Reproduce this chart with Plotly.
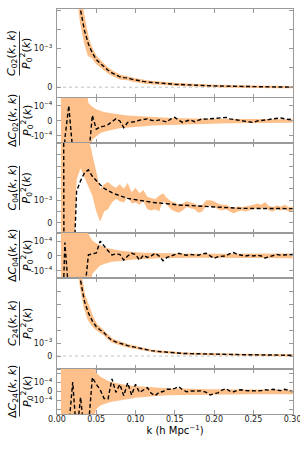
import numpy as np
import plotly.graph_objects as go
from plotly.subplots import make_subplots

# ---------------- data ----------------
k = np.round(np.arange(1, 61) * 0.005, 4)

# C02 / P0^2 (units of 1e-3)
c02 = [72, 18, 8.0, 4.5, 2.9, 2.0, 1.47, 1.12, 0.89, 0.72,
       0.62, 0.52, 0.44, 0.37, 0.31, 0.27, 0.25, 0.24, 0.21, 0.185,
       0.165, 0.15, 0.135, 0.124, 0.113, 0.104, 0.096, 0.089, 0.083, 0.077,
       0.071, 0.065, 0.06, 0.055, 0.051, 0.047, 0.043, 0.04, 0.037, 0.034,
       0.031, 0.028, 0.025, 0.023, 0.021, 0.019, 0.018, 0.016, 0.015, 0.014,
       0.012, 0.011, 0.01, 0.008, 0.007, 0.006, 0.005, 0.004, 0.003, 0.002]
# Delta C02 (units of 1e-4)
dc02 = [-8, -1.2, 1.02, -2.0, -4, -4, -4, -2.5, 0.38, -0.55,
        -0.4, -0.35, -0.24, -0.05, 0.14, 0.0, -0.45, -0.1, -0.08, -0.05,
        0.05, 0.07, 0.14, 0.05, 0.0, 0.07, 0.02, -0.07, 0.14, 0.24,
        0.05, -0.1, 0.0, 0.07, -0.05, 0.05, 0.14, 0.12, 0.14, 0.17,
        0.2, 0.22, 0.24, 0.14, 0.1, 0.07, 0.04, 0.0, -0.05, -0.1,
        0.0, 0.05, 0.07, 0.1, 0.14, 0.18, 0.2, 0.14, 0.1, 0.14]
dc02_hi = [3, 3, 3, 3, 3, 3, 3, 1.2, 0.95, 0.78,
           0.68, 0.6, 0.55, 0.5, 0.46, 0.42, 0.39, 0.36, 0.34, 0.32,
           0.3, 0.28, 0.27, 0.25, 0.24, 0.23, 0.22, 0.21, 0.2, 0.19,
           0.185, 0.18, 0.175, 0.17, 0.165, 0.16, 0.157, 0.154, 0.15, 0.147,
           0.144, 0.141, 0.138, 0.136, 0.134, 0.132, 0.13, 0.128, 0.127, 0.126,
           0.125, 0.124, 0.123, 0.122, 0.122, 0.121, 0.121, 0.12, 0.12, 0.12]
dc02_lo = [-3, -3, -3, -3, -3, -3, -3, -3, -1.24, -1.0,
           -0.82, -0.72, -0.64, -0.58, -0.53, -0.49, -0.46, -0.43, -0.41, -0.4,
           -0.37, -0.35, -0.33, -0.31, -0.3, -0.28, -0.27, -0.26, -0.25, -0.24,
           -0.23, -0.22, -0.21, -0.2, -0.195, -0.19, -0.185, -0.18, -0.175, -0.17,
           -0.165, -0.16, -0.155, -0.15, -0.145, -0.14, -0.137, -0.134, -0.131, -0.128,
           -0.126, -0.124, -0.122, -0.12, -0.12, -0.12, -0.12, -0.12, -0.12, -0.12]

# C04 / P0^2 (units of 1e-3)
c04 = [60, -20, -30, -3, 1.4, 1.85, 2.2, 2.33, 2.05, 1.85,
       1.68, 1.52, 1.42, 1.33, 1.26, 1.19, 1.13, 1.08, 1.05, 1.02,
       0.99, 0.96, 0.93, 0.91, 0.89, 0.88, 0.87, 0.86, 0.83, 0.81,
       0.79, 0.78, 0.76, 0.75, 0.73, 0.72, 0.71, 0.71, 0.70, 0.70,
       0.69, 0.68, 0.67, 0.66, 0.65, 0.65, 0.64, 0.64, 0.64, 0.65,
       0.66, 0.66, 0.66, 0.65, 0.65, 0.64, 0.64, 0.64, 0.63, 0.63]
c04_lo = [-3, -3, -3, -3, 1.9, 2.4, 2.0, 1.6, 1.2, 0.5,
          0.05, 0.5, 0.6, 0.9, 1.05, 0.95, 0.9, 1.15, 0.85, 0.9,
          0.8, 0.95, 0.6, 0.55, 0.6, 0.5, 0.95, 0.8, 0.6, 0.5,
          0.45, 0.55, 0.7, 0.65, 0.6, 0.45, 0.5, 0.75, 0.75, 0.7,
          0.6, 0.55, 0.6, 0.5, 0.42, 0.5, 0.55, 0.5, 0.55, 0.6,
          0.65, 0.6, 0.7, 0.55, 0.5, 0.6, 0.55, 0.6, 0.5, 0.5]
c04_hi = [8, 8, 8, 8, 8, 8, 6, 3.8, 3.0, 2.2,
          1.5, 1.7, 1.8, 1.65, 1.55, 1.7, 1.5, 1.75, 1.35, 1.55,
          1.3, 1.45, 1.15, 1.1, 1.05, 1.2, 1.3, 1.1, 0.95, 0.9,
          0.8, 0.85, 0.95, 0.9, 0.85, 0.75, 0.8, 1.0, 1.0, 0.95,
          0.85, 0.8, 0.8, 0.72, 0.65, 0.72, 0.7, 0.72, 0.75, 0.8,
          0.85, 0.8, 0.92, 0.75, 0.7, 0.78, 0.72, 0.8, 0.7, 0.72]
# Delta C04 (units of 1e-4)
dc04 = [-8, 0.9, -8, -6, -4, -8, -2.5, 0.07, 0.14, 0.2,
        1.0, 0.64, 0.35, 0.07, 0.14, 0.1, -0.28, 0.0, 0.18, 0.1,
        -0.28, 0.05, -0.1, 0.0, 0.18, 0.0, -0.32, -0.1, 0.0, 0.1,
        0.18, 0.1, 0.05, 0.1, 0.05, 0.05, 0.15, 0.18, 0.0, -0.16,
        -0.05, 0.0, 0.0, 0.15, 0.23, 0.1, 0.05, 0.0, 0.05, 0.0,
        0.05, 0.0, -0.14, -0.05, 0.05, 0.1, 0.05, 0.07, 0.05, 0.1]
dc04_hi = [3, 3, 3, 3, 3, 3, 3, 1.5, 1.05, 0.85,
           0.7, 0.6, 0.52, 0.45, 0.4, 0.36, 0.33, 0.3, 0.27, 0.25,
           0.23, 0.22, 0.21, 0.2, 0.19, 0.18, 0.17, 0.16, 0.155, 0.15,
           0.15, 0.15, 0.15, 0.15, 0.15, 0.15, 0.15, 0.15, 0.15, 0.15,
           0.15, 0.15, 0.155, 0.155, 0.155, 0.155, 0.155, 0.16, 0.16, 0.16,
           0.16, 0.16, 0.16, 0.16, 0.16, 0.16, 0.16, 0.16, 0.16, 0.16]
dc04_lo = [-3, -3, -3, -3, -3, -3, -3, -3, -1.2, -0.95,
           -0.65, -0.55, -0.45, -0.4, -0.37, -0.33, -0.3, -0.28, -0.26, -0.24,
           -0.22, -0.2, -0.19, -0.18, -0.17, -0.16, -0.15, -0.14, -0.13, -0.12,
           -0.12, -0.12, -0.12, -0.12, -0.12, -0.125, -0.125, -0.125, -0.13, -0.13,
           -0.13, -0.13, -0.135, -0.135, -0.135, -0.14, -0.14, -0.14, -0.14, -0.14,
           -0.145, -0.145, -0.145, -0.145, -0.15, -0.15, -0.15, -0.15, -0.15, -0.15]

# C24 / P0^2 (units of 1e-3)
c24 = [200, 55, 24, 13.5, 8.5, 5.8, 4.2, 3.3, 2.7, 2.25,
       2.0, 1.78, 1.45, 1.2, 1.08, 0.97, 0.88, 0.8, 0.73, 0.66,
       0.6, 0.53, 0.46, 0.41, 0.37, 0.34, 0.31, 0.28, 0.26, 0.24,
       0.22, 0.2, 0.19, 0.18, 0.17, 0.16, 0.15, 0.145, 0.14, 0.13,
       0.125, 0.12, 0.115, 0.11, 0.108, 0.105, 0.102, 0.1, 0.097, 0.094,
       0.09, 0.086, 0.082, 0.078, 0.074, 0.07, 0.066, 0.062, 0.058, 0.055]
# Delta C24 (units of 1e-4)
dc24 = [-5, -8, -4, 1.07, -5, -0.66, -5, -4, 1.6, 0.81,
        0.2, -0.8, -0.84, 1.43, -0.1, 0.81, -0.47, 0.99, -0.4, 0.81,
        -0.1, 0.2, 0.44, -0.2, -0.47, -0.1, 0.0, 0.26, 0.26, 0.35,
        0.55, 0.2, -0.03, 0.05, 0.07, 0.05, 0.07, -0.1, -0.4, -0.25,
        -0.15, 0.15, 0.33, 0.05, -0.03, 0.15, 0.19, 0.1, 0.07, 0.05,
        0.07, 0.1, 0.19, 0.15, 0.26, 0.15, 0.1, 0.26, 0.07, -0.03]
dc24_hi = [5, 5, 5, 5, 5, 5, 5, 5, 3.5, 2.15,
           1.7, 1.4, 1.2, 1.05, 0.95, 0.85, 0.77, 0.7, 0.64, 0.6,
           0.56, 0.52, 0.49, 0.46, 0.43, 0.41, 0.39, 0.37, 0.35, 0.34,
           0.33, 0.32, 0.31, 0.3, 0.29, 0.28, 0.27, 0.265, 0.26, 0.255,
           0.25, 0.245, 0.24, 0.235, 0.23, 0.225, 0.22, 0.215, 0.21, 0.21,
           0.205, 0.205, 0.2, 0.2, 0.2, 0.2, 0.2, 0.2, 0.2, 0.2]
dc24_lo = [-5, -5, -5, -5, -5, -5, -5, -5, -3.5, -2.0,
           -1.6, -1.42, -1.28, -1.17, -1.08, -1.03, -0.95, -0.88, -0.8, -0.72,
           -0.67, -0.62, -0.58, -0.54, -0.5, -0.47, -0.45, -0.43, -0.42, -0.41,
           -0.4, -0.39, -0.38, -0.37, -0.36, -0.35, -0.345, -0.34, -0.335, -0.33,
           -0.325, -0.32, -0.315, -0.31, -0.31, -0.305, -0.305, -0.3, -0.3, -0.3,
           -0.3, -0.3, -0.3, -0.3, -0.3, -0.3, -0.3, -0.3, -0.3, -0.3]

x_tickvals = [0.0, 0.05, 0.10, 0.15, 0.20, 0.25, 0.30]
x_ticktext = ["0.00", "0.05", "0.10", "0.15", "0.20", "0.25", "0.30"]

E3 = "10<sup>−3</sup>"
E4 = "10<sup>−4</sup>"
y_ticks = [
    ([0, 0.5e-3, 1e-3, 1.5e-3, 2e-3], ["0", "", E3, "", ""]),
    ([-1e-4, 0, 1e-4], ["-" + E4, "0", E4]),
    ([0, 0.5e-3, 1e-3, 1.5e-3, 2e-3, 2.5e-3, 3e-3], ["0", "", E3, "", "", "", ""]),
    ([-1e-4, 0, 1e-4], ["-" + E4, "0", E4]),
    ([0, 1e-3, 2e-3, 3e-3, 4e-3, 5e-3], ["0", E3, "", "", "", ""]),
    ([-2e-4, -1e-4, 0, 1e-4, 2e-4], ["", "-" + E4, "0", E4, ""]),
]
y_ranges = [[-0.28e-3, 2.03e-3], [-1.47e-4, 1.53e-4], [-0.44e-3, 3.51e-3],
            [-1.49e-4, 1.55e-4], [-1.0e-3, 6.0e-3], [-2.55e-4, 2.55e-4]]

labels = [
    ("<i>C</i><sub>02</sub>(<i>k</i>, <i>k</i>)", 44),
    ("Δ<i>C</i><sub>02</sub>(<i>k</i>, <i>k</i>)", 50),
    ("<i>C</i><sub>04</sub>(<i>k</i>, <i>k</i>)", 44),
    ("Δ<i>C</i><sub>04</sub>(<i>k</i>, <i>k</i>)", 50),
    ("<i>C</i><sub>24</sub>(<i>k</i>, <i>k</i>)", 44),
    ("Δ<i>C</i><sub>24</sub>(<i>k</i>, <i>k</i>)", 50),
]
denom = "<i>P</i><sub>0</sub><sup>2</sup>(<i>k</i>)"

# ---------------- figure ----------------
ORANGE = "rgb(254,192,138)"
GRAY = "#9a9a9a"
row_px = [89, 45, 90, 45, 91, 45]

FIG_W, FIG_H = 300, 450
PLOT_L, PLOT_R, PLOT_T, PLOT_B = 57, 293, 9, 414   # pixels
L, T = PLOT_L, PLOT_T
R = FIG_W - PLOT_R
B = FIG_H - PLOT_B
W, H = FIG_W - L - R, FIG_H - T - B

fig = make_subplots(rows=6, cols=1, shared_xaxes=True, vertical_spacing=0,
                    row_heights=row_px)

def band(row, lo, hi, edge=0.0):
    fig.add_trace(go.Scatter(x=k, y=lo, mode="lines",
                             line=dict(color=ORANGE, width=edge),
                             hoverinfo="skip"), row=row, col=1)
    fig.add_trace(go.Scatter(x=k, y=hi, mode="lines", fill="tonexty",
                             fillcolor=ORANGE,
                             line=dict(color=ORANGE, width=edge),
                             hoverinfo="skip"), row=row, col=1)

def dashed(row, y):
    fig.add_trace(go.Scatter(x=k, y=y, mode="lines",
                             line=dict(color="black", width=1.4, dash="4px,2.5px")),
                  row=row, col=1)

c02a = np.array(c02) * 1e-3
dc02a = np.array(dc02) * 1e-4
c04a = np.array(c04) * 1e-3
dc04a = np.array(dc04) * 1e-4
c24a = np.array(c24) * 1e-3
dc24a = np.array(dc24) * 1e-4

band(1, c02a + np.array(dc02_lo) * 1e-4, c02a + np.array(dc02_hi) * 1e-4, edge=1.4)
dashed(1, c02a)
band(2, np.array(dc02_lo) * 1e-4, np.array(dc02_hi) * 1e-4)
dashed(2, dc02a)
band(3, np.array(c04_lo) * 1e-3, np.array(c04_hi) * 1e-3)
dashed(3, c04a)
band(4, np.array(dc04_lo) * 1e-4, np.array(dc04_hi) * 1e-4)
dashed(4, dc04a)
band(5, c24a + np.array(dc24_lo) * 1e-4, c24a + np.array(dc24_hi) * 1e-4, edge=1.4)
dashed(5, c24a)
band(6, np.array(dc24_lo) * 1e-4, np.array(dc24_hi) * 1e-4)
dashed(6, dc24a)

for r in (1, 5):
    fig.add_hline(y=0, line=dict(color="#b0b0b0", width=0.8, dash="dot"),
                  row=r, col=1, layer="below")

axis_common = dict(showline=True, linecolor=GRAY, linewidth=1.3, mirror="ticks",
                   ticks="inside", ticklen=4, tickwidth=1, tickcolor=GRAY,
                   showgrid=False, zeroline=False, automargin=False)

for r in range(1, 7):
    fig.update_xaxes(range=[0, 0.3005], tickvals=x_tickvals, ticktext=x_ticktext,
                     **axis_common, row=r, col=1)
    tv, tt = y_ticks[r - 1]
    fig.update_yaxes(range=y_ranges[r - 1], tickvals=tv, ticktext=tt,
                     tickfont=dict(size=8, color="#222"), ticklabelstandoff=2,
                     **axis_common, row=r, col=1)

fig.update_xaxes(showticklabels=True, tickfont=dict(size=8, color="#222"),
                 ticklabeloverflow="allow", ticklabelstandoff=-3,
                 title=dict(text="k (h Mpc<sup>−1</sup>)",
                            font=dict(size=10, color="black"), standoff=0),
                 row=6, col=1)

# y-axis labels as fractions (positions in pixels)
def px_x(p):
    return (p - L) / W

def px_y(p):
    return (FIG_H - B - p) / H

tops = np.cumsum([0] + row_px[:-1]) + PLOT_T
for i, (num, barlen) in enumerate(labels):
    cy_px = tops[i] + row_px[i] / 2
    fig.add_annotation(text=num, xref="paper", yref="paper",
                       x=px_x(12.5), y=px_y(cy_px), textangle=-90, showarrow=False,
                       font=dict(size=11, color="black"),
                       xanchor="center", yanchor="middle")
    fig.add_annotation(text=denom, xref="paper", yref="paper",
                       x=px_x(26.5), y=px_y(cy_px), textangle=-90, showarrow=False,
                       font=dict(size=11, color="black"),
                       xanchor="center", yanchor="middle")
    fig.add_shape(type="line", xref="paper", yref="paper",
                  x0=px_x(19.5), x1=px_x(19.5),
                  y0=px_y(cy_px + barlen / 2), y1=px_y(cy_px - barlen / 2),
                  line=dict(color="black", width=0.8))

fig.update_layout(width=FIG_W, height=FIG_H, showlegend=False,
                  margin=dict(l=L, r=R, t=T, b=B, autoexpand=False),
                  plot_bgcolor="white", paper_bgcolor="white",
                  font=dict(family="DejaVu Sans", size=9, color="black"))

# remove the default 8px page margin so the 300x450 figure fills the window
fig.write_html("out.html", config={"displayModeBar": False},
               post_script="document.body.style.margin='0';document.body.style.overflow='hidden';")
